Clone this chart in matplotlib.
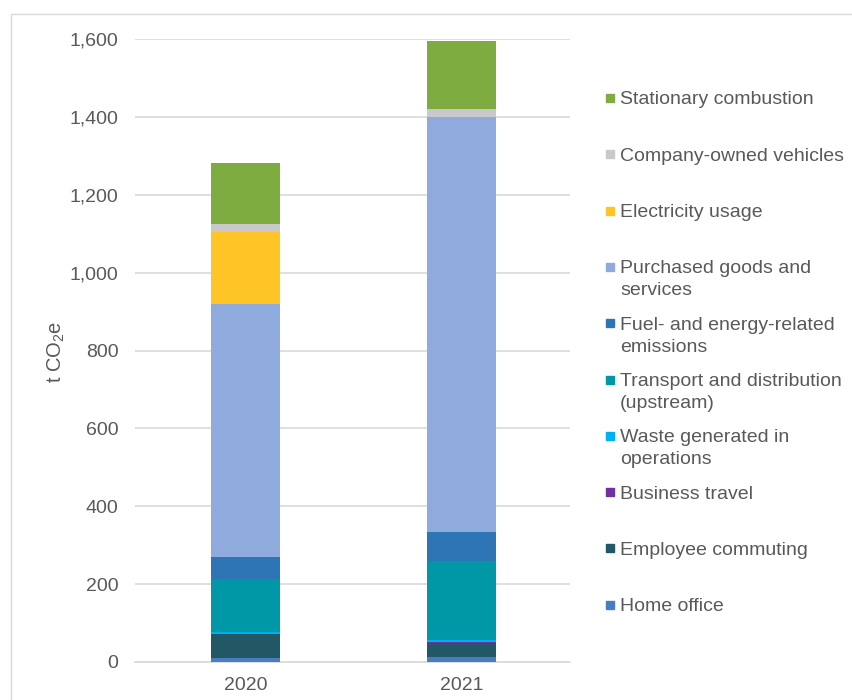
import matplotlib.pyplot as plt
import matplotlib.patches as patches
import numpy as np

plt.rcParams['font.family'] = ['Liberation Sans', 'DejaVu Sans']

years = ['2020', '2021']

# stacking order, bottom to top
categories = [
    'Home office',
    'Employee commuting',
    'Business travel',
    'Waste generated in\noperations',
    'Transport and distribution\n(upstream)',
    'Fuel- and energy-related\nemissions',
    'Purchased goods and\nservices',
    'Electricity usage',
    'Company-owned vehicles',
    'Stationary combustion',
]
colors = ['#4A7DC0', '#225866', '#7030A0', '#00B0F0', '#0097A7',
          '#2E75B6', '#8FAADC', '#FFC527', '#C9C9C9', '#7EAC40']

home_office = [9, 14]
employee_commuting = [63, 36]
business_travel = [0.1, 0.1]
waste = [6, 6]
transport = [136, 204]
fuel_energy = [56, 74]
purchased = [650, 1066]
electricity = [184, 0]
company_vehicles = [21, 20]
stationary = [157, 174]

series = [home_office, employee_commuting, business_travel, waste, transport,
          fuel_energy, purchased, electricity, company_vehicles, stationary]

text_col = '#595959'
grid_col = '#D9D9D9'

fig = plt.figure(figsize=(8.53, 7.0), dpi=100)
ax = fig.add_axes([135 / 853, 1 - 662 / 700, (570 - 135) / 853, (662 - 39) / 700])

x = np.arange(len(years))
bottom = np.zeros(len(years))
for vals, col in zip(series, colors):
    ax.bar(x, vals, width=0.32, bottom=bottom, color=col, zorder=3)
    bottom += np.array(vals)

ax.set_xlim(-0.51, 1.5)
ax.set_ylim(0, 1600)
ax.set_yticks(range(0, 1601, 200))
ax.set_yticklabels([f'{v:,}' for v in range(0, 1601, 200)])
ax.set_xticks(x)
ax.set_xticklabels(years)
ax.yaxis.grid(True, color=grid_col, lw=1.2, zorder=0)
for s in ['top', 'right', 'left']:
    ax.spines[s].set_visible(False)
ax.spines['bottom'].set_color(grid_col)
ax.spines['bottom'].set_linewidth(1.2)
ax.tick_params(axis='both', length=0, labelsize=14, colors=text_col)
ax.tick_params(axis='y', pad=12)
ax.tick_params(axis='x', pad=11)

fig.text(56 / 853, 1 - 352 / 700, r't CO$\mathregular{_2}$e', rotation=90,
         ha='center', va='center', fontsize=14.5, color=text_col)

# legend, top entry first; wrapped labels run downward from the first line
for i, (lab, col) in enumerate(zip(categories[::-1], colors[::-1])):
    y_first = 98 + 56.3 * i
    fig.patches.append(patches.Rectangle((606 / 853, 1 - (y_first + 4) / 700), 8 / 853, 8 / 700,
                                         transform=fig.transFigure, color=col))
    for k, line in enumerate(lab.split('\n')):
        fig.text(620 / 853, 1 - (y_first + 2 + 22 * k) / 700, line, ha='left', va='center',
                 fontsize=14, color=text_col)

# outer chart frame
fig.patches.append(patches.Rectangle((11 / 853, -0.1), 1.0, 1 - 14 / 700 + 0.1,
                                     transform=fig.transFigure, fill=False,
                                     edgecolor='#D9D9D9', lw=1))

fig.savefig('out.png', dpi=100)
